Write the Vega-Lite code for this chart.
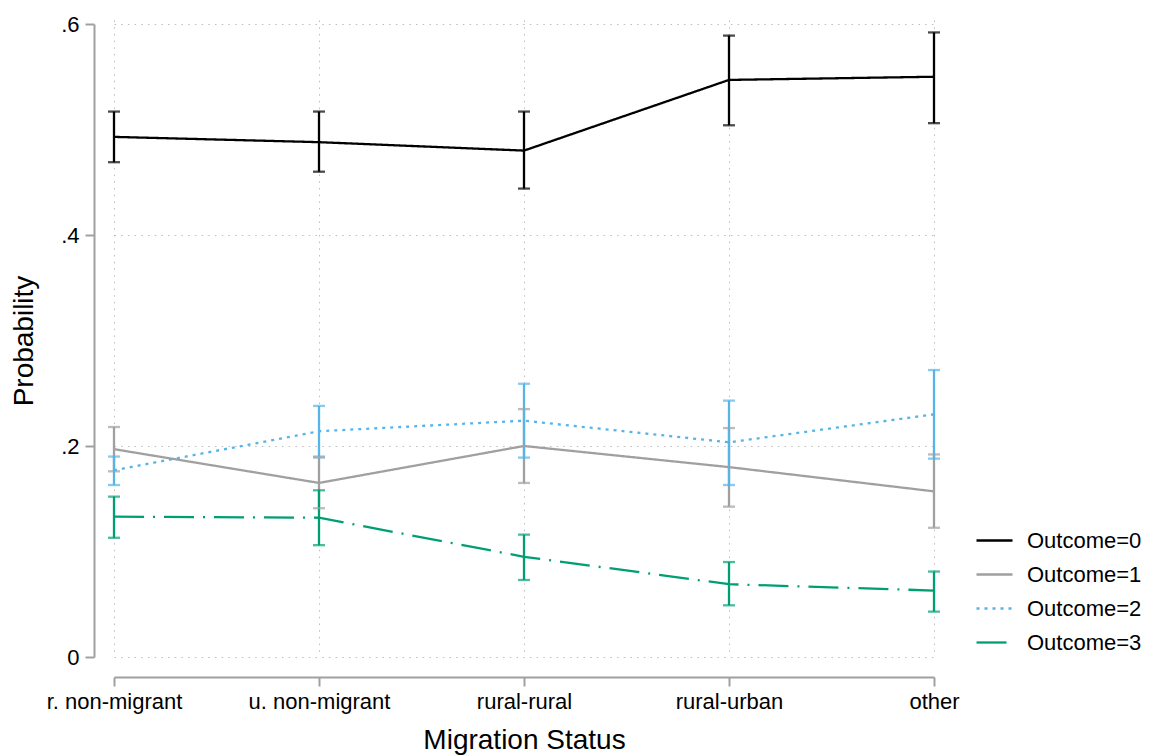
{
  "$schema": "https://vega.github.io/schema/vega-lite/v6.json",
  "autosize": "none",
  "width": 845,
  "height": 661,
  "padding": {"left": 103, "top": 8, "right": 202, "bottom": 86},
  "background": "white",
  "config": {
    "font": "Liberation Sans",
    "view": {"stroke": null},
    "axis": {
      "domainColor": "#A0A0A0",
      "domainWidth": 2,
      "tickColor": "#A0A0A0",
      "tickWidth": 2,
      "tickSize": 9,
      "labelFontSize": 22,
      "labelColor": "#000000",
      "titleFontSize": 28,
      "titleFontWeight": "normal",
      "titleColor": "#000000",
      "gridColor": "#BDBDBD",
      "gridDash": [1.5, 5.2],
      "gridWidth": 1
    }
  },
  "data": {
    "values": [
      {"status": "r. non-migrant", "outcome": "Outcome=0", "p": 0.493, "lo": 0.469, "hi": 0.517},
      {"status": "u. non-migrant", "outcome": "Outcome=0", "p": 0.488, "lo": 0.460, "hi": 0.517},
      {"status": "rural-rural", "outcome": "Outcome=0", "p": 0.480, "lo": 0.444, "hi": 0.517},
      {"status": "rural-urban", "outcome": "Outcome=0", "p": 0.547, "lo": 0.504, "hi": 0.589},
      {"status": "other", "outcome": "Outcome=0", "p": 0.550, "lo": 0.506, "hi": 0.592},
      {"status": "r. non-migrant", "outcome": "Outcome=1", "p": 0.197, "lo": 0.176, "hi": 0.218},
      {"status": "u. non-migrant", "outcome": "Outcome=1", "p": 0.165, "lo": 0.141, "hi": 0.189},
      {"status": "rural-rural", "outcome": "Outcome=1", "p": 0.200, "lo": 0.165, "hi": 0.235},
      {"status": "rural-urban", "outcome": "Outcome=1", "p": 0.180, "lo": 0.1425, "hi": 0.217},
      {"status": "other", "outcome": "Outcome=1", "p": 0.157, "lo": 0.1225, "hi": 0.192},
      {"status": "r. non-migrant", "outcome": "Outcome=2", "p": 0.177, "lo": 0.163, "hi": 0.190},
      {"status": "u. non-migrant", "outcome": "Outcome=2", "p": 0.214, "lo": 0.190, "hi": 0.238},
      {"status": "rural-rural", "outcome": "Outcome=2", "p": 0.224, "lo": 0.189, "hi": 0.259},
      {"status": "rural-urban", "outcome": "Outcome=2", "p": 0.2035, "lo": 0.163, "hi": 0.243},
      {"status": "other", "outcome": "Outcome=2", "p": 0.230, "lo": 0.188, "hi": 0.272},
      {"status": "r. non-migrant", "outcome": "Outcome=3", "p": 0.133, "lo": 0.113, "hi": 0.152},
      {"status": "u. non-migrant", "outcome": "Outcome=3", "p": 0.132, "lo": 0.106, "hi": 0.158},
      {"status": "rural-rural", "outcome": "Outcome=3", "p": 0.095, "lo": 0.073, "hi": 0.116},
      {"status": "rural-urban", "outcome": "Outcome=3", "p": 0.069, "lo": 0.049, "hi": 0.090},
      {"status": "other", "outcome": "Outcome=3", "p": 0.063, "lo": 0.043, "hi": 0.081}
    ]
  },
  "encoding": {
    "x": {
      "field": "status",
      "type": "ordinal",
      "sort": ["r. non-migrant", "u. non-migrant", "rural-rural", "rural-urban", "other"],
      "scale": {"type": "point", "padding": 0, "range": [11, 831]},
      "axis": {
        "title": "Migration Status",
        "labelAngle": 0,
        "offset": 8,
        "labelPadding": 5,
        "titlePadding": 14,
        "grid": true
      }
    },
    "color": {
      "field": "outcome",
      "type": "nominal",
      "scale": {
        "domain": ["Outcome=0", "Outcome=1", "Outcome=2", "Outcome=3"],
        "range": ["#000000", "#A0A0A0", "#56B4E9", "#009E73"]
      },
      "legend": {
        "title": null,
        "orient": "none",
        "legendX": 872,
        "legendY": 513,
        "padding": 0,
        "symbolType": "stroke",
        "symbolSize": 1296,
        "symbolStrokeWidth": 2.3,
        "symbolOpacity": 1,
        "labelFontSize": 22,
        "labelColor": "#000000",
        "labelOffset": 13,
        "rowPadding": 3
      }
    }
  },
  "layer": [
    {
      "mark": {"type": "rule", "strokeWidth": 2.3},
      "encoding": {
        "y": {
          "field": "lo",
          "type": "quantitative",
          "scale": {"domain": [0, 0.6], "range": [649, 16], "nice": false, "zero": false},
          "axis": {
            "title": "Probability",
            "values": [0, 0.2, 0.4, 0.6],
            "labelExpr": "datum.value == 0 ? '0' : replace(format(datum.value, '.1f'), '0.', '.')",
            "offset": 9,
            "labelPadding": 6,
            "titlePadding": 22,
            "grid": true
          }
        },
        "y2": {"field": "hi"}
      }
    },
    {
      "mark": {"type": "tick", "size": 12, "thickness": 2.3, "orient": "horizontal"},
      "encoding": {"y": {"field": "lo", "type": "quantitative"}}
    },
    {
      "mark": {"type": "tick", "size": 12, "thickness": 2.3, "orient": "horizontal"},
      "encoding": {"y": {"field": "hi", "type": "quantitative"}}
    },
    {
      "mark": {"type": "line", "strokeWidth": 2.3},
      "encoding": {
        "y": {"field": "p", "type": "quantitative"},
        "strokeDash": {
          "field": "outcome",
          "type": "nominal",
          "scale": {
            "domain": ["Outcome=0", "Outcome=1", "Outcome=2", "Outcome=3"],
            "range": [[1, 0], [1, 0], [3, 5], [30, 9, 2, 9]]
          },
          "legend": {
            "title": null,
            "orient": "none",
            "legendX": 872,
            "legendY": 513,
            "padding": 0,
            "symbolType": "stroke",
            "symbolSize": 1296,
            "symbolStrokeWidth": 2.3,
            "symbolOpacity": 1,
            "labelFontSize": 22,
            "labelColor": "#000000",
            "labelOffset": 13,
            "rowPadding": 3
          }
        }
      }
    }
  ]
}
